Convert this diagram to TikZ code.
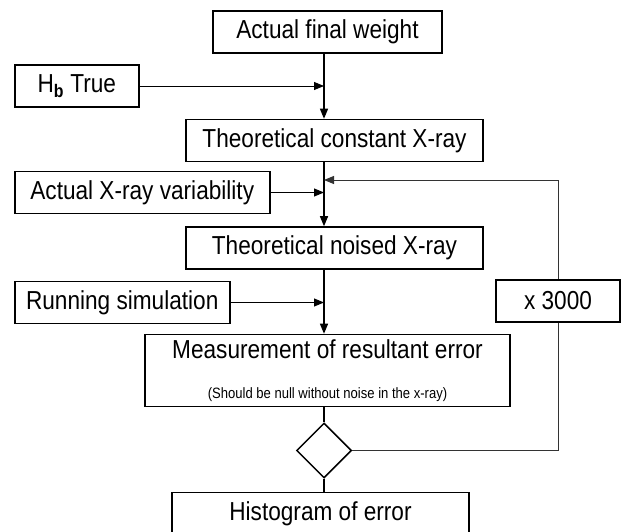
\documentclass[tikz,border=0pt]{standalone}
\usepackage{fontspec}
\setmainfont{Liberation Sans}[FakeStretch=0.87]
\usetikzlibrary{arrows.meta,positioning,shapes.geometric}

\begin{document}
\begin{tikzpicture}[
  x=1pt, y=-1pt,
  font=\fontsize{26}{30}\selectfont,
  box/.style={rectangle, draw=black, line width=1.5pt, fill=white,
              minimum width=#1, minimum height=42pt, align=center, inner sep=2pt},
  dec/.style={diamond, draw=black, line width=1.5pt, minimum width=55pt,
              minimum height=55pt, inner sep=0pt},
  ar/.style={-{Triangle[length=10pt,width=8pt]}, line width=1.2pt},
  sidear/.style={-{Triangle[length=10pt,width=8pt]}, line width=0.9pt},
  ln/.style={line width=1.2pt},
  loopln/.style={line width=0.9pt, black!80}]
  \useasboundingbox (0,0) rectangle (625,532);
  \node[box=229pt] (afw) at (327.5,32) {Actual final weight};
  \node[box=297pt, below=65pt of afw, xshift=7pt] (tcx) {Theoretical constant X-ray};
  \node[box=297pt, below=64pt of tcx] (tnx) {Theoretical noised X-ray};
  \node[box=365pt, minimum height=72pt, below=64pt of tnx, xshift=-7pt] (meas)
    {Measurement of resultant error\\[10pt]{\fontsize{15}{17}\selectfont (Should be null without noise in the x-ray)}};
  \node[dec, below=15pt of meas, xshift=-3.5pt] (dec) {};
  \node[box=297pt, below=13pt of dec, xshift=-3.5pt] (hist) {Histogram of error};
  \node[box=124pt, anchor=west] (hb) at (14,86) {H\textsubscript{\textbf{b}} True};
  \node[box=255pt, anchor=west] (axv) at (14,192.5) {Actual X-ray variability};
  \node[box=215pt, anchor=west] (rs) at (14,302.5) {Running simulation};
  \node[box=124pt] (rep) at (558,301) {x 3000};
  \coordinate (fb) at (324,180);
  \draw[ar] (afw.south -| dec) -- (tcx.north -| dec);
  \draw[ar] (tcx.south -| dec) -- (tnx.north -| dec);
  \draw[ar] (tnx.south -| dec) -- (meas.north -| dec);
  \draw[ln] (meas.south -| dec) -- (dec.north);
  \draw[ln] (dec.south) -- (hist.north -| dec);
  \draw[sidear] (hb) -- (hb -| dec);
  \draw[sidear] (axv) -- (axv -| dec);
  \draw[sidear] (rs) -- (rs -| dec);
  \draw[loopln] (dec.east) -| (rep.south);
  \draw[loopln, -{Triangle[length=10pt,width=8pt]}] (rep.north) |- (fb);
\end{tikzpicture}
\end{document}
